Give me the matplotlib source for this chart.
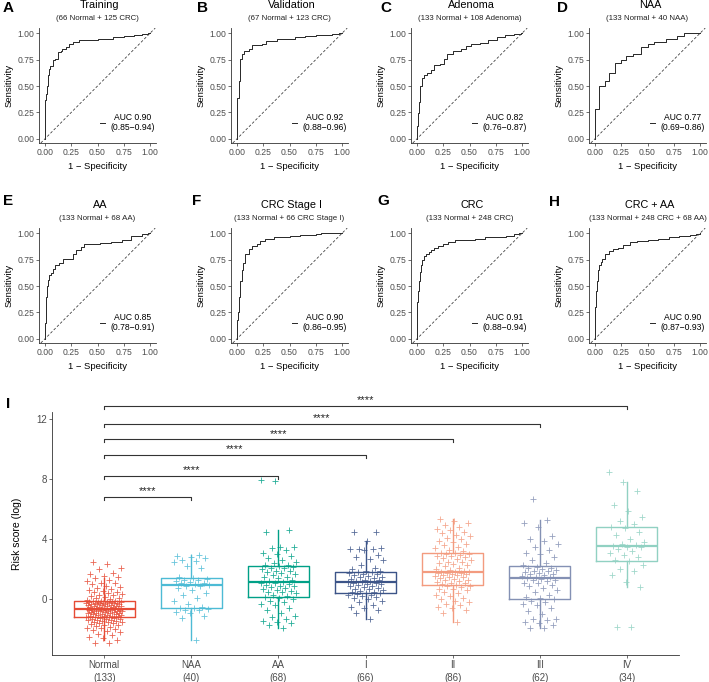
import numpy as np
import matplotlib.pyplot as plt
import matplotlib
from matplotlib.lines import Line2D
matplotlib.rcParams['font.family'] = ['Liberation Sans', 'DejaVu Sans']

# ---- ROC panels: (fpr, tpr) corner points ----
training_fpr = [0, 0, 0.008, 0.016, 0.024, 0.035, 0.045, 0.075, 0.1, 0.12, 0.15, 0.16, 0.2, 0.23, 0.27, 0.32, 0.5, 0.65, 0.75, 0.85, 0.92, 0.98, 1.0]
training_tpr = [0, 0.37, 0.42, 0.5, 0.6, 0.66, 0.69, 0.75, 0.76, 0.82, 0.83, 0.85, 0.87, 0.9, 0.92, 0.94, 0.95, 0.96, 0.97, 0.98, 0.99, 1.0, 1.0]
validation_fpr = [0, 0, 0.015, 0.03, 0.05, 0.07, 0.11, 0.14, 0.24, 0.28, 0.38, 0.55, 0.65, 0.75, 0.9, 0.97, 1.0]
validation_tpr = [0, 0.39, 0.55, 0.76, 0.8, 0.83, 0.85, 0.89, 0.9, 0.93, 0.95, 0.96, 0.97, 0.98, 0.99, 1.0, 1.0]
adenoma_fpr = [0, 0, 0.008, 0.015, 0.03, 0.045, 0.07, 0.1, 0.13, 0.16, 0.22, 0.26, 0.29, 0.34, 0.42, 0.47, 0.51, 0.6, 0.68, 0.76, 0.84, 0.92, 0.99, 1.0]
adenoma_tpr = [0, 0.12, 0.24, 0.35, 0.5, 0.58, 0.6, 0.62, 0.65, 0.7, 0.71, 0.76, 0.8, 0.83, 0.85, 0.88, 0.9, 0.91, 0.94, 0.96, 0.98, 0.99, 1.0, 1.0]
naa_fpr = [0, 0, 0.04, 0.1, 0.13, 0.19, 0.25, 0.3, 0.36, 0.44, 0.5, 0.56, 0.68, 0.78, 0.85, 1.0]
naa_tpr = [0, 0.28, 0.5, 0.55, 0.62, 0.72, 0.75, 0.78, 0.8, 0.87, 0.9, 0.92, 0.95, 0.97, 1.0, 1.0]
aa_fpr = [0, 0, 0.005, 0.012, 0.02, 0.03, 0.04, 0.06, 0.08, 0.1, 0.13, 0.17, 0.27, 0.3, 0.34, 0.37, 0.52, 0.63, 0.73, 0.82, 0.92, 0.98, 1.0]
aa_tpr = [0, 0.15, 0.25, 0.4, 0.5, 0.56, 0.6, 0.62, 0.66, 0.7, 0.72, 0.76, 0.8, 0.84, 0.87, 0.9, 0.91, 0.92, 0.94, 0.97, 0.99, 1.0, 1.0]
stage1_fpr = [0, 0, 0.008, 0.02, 0.03, 0.045, 0.06, 0.08, 0.11, 0.14, 0.19, 0.22, 0.27, 0.35, 0.5, 0.6, 0.75, 0.8, 1.0]
stage1_tpr = [0, 0.18, 0.25, 0.4, 0.55, 0.65, 0.72, 0.8, 0.85, 0.88, 0.9, 0.93, 0.95, 0.96, 0.97, 0.98, 0.99, 1.0, 1.0]
crc_fpr = [0, 0, 0.008, 0.016, 0.025, 0.035, 0.05, 0.07, 0.09, 0.11, 0.13, 0.16, 0.2, 0.25, 0.3, 0.36, 0.45, 0.55, 0.65, 0.75, 0.85, 0.92, 0.97, 1.0]
crc_tpr = [0, 0.35, 0.45, 0.55, 0.63, 0.7, 0.75, 0.78, 0.8, 0.82, 0.84, 0.86, 0.88, 0.9, 0.92, 0.935, 0.94, 0.95, 0.96, 0.965, 0.975, 0.99, 1.0, 1.0]
crcaa_fpr = [0, 0, 0.008, 0.016, 0.025, 0.04, 0.055, 0.07, 0.1, 0.13, 0.17, 0.22, 0.27, 0.33, 0.4, 0.5, 0.6, 0.7, 0.8, 0.9, 0.96, 1.0]
crcaa_tpr = [0, 0.3, 0.45, 0.55, 0.65, 0.7, 0.73, 0.76, 0.8, 0.83, 0.85, 0.86, 0.89, 0.92, 0.93, 0.94, 0.95, 0.96, 0.97, 0.98, 0.99, 1.0]

roc_letters = ['A', 'B', 'C', 'D', 'E', 'F', 'G', 'H']
roc_titles = ['Training', 'Validation', 'Adenoma', 'NAA', 'AA', 'CRC Stage I', 'CRC', 'CRC + AA']
roc_subtitles = ['(66 Normal + 125 CRC)', '(67 Normal + 123 CRC)', '(133 Normal + 108 Adenoma)',
                 '(133 Normal + 40 NAA)', '(133 Normal + 68 AA)', '(133 Normal + 66 CRC Stage I)',
                 '(133 Normal + 248 CRC)', '(133 Normal + 248 CRC + 68 AA)']
roc_auc = ['0.90', '0.92', '0.82', '0.77', '0.85', '0.90', '0.91', '0.90']
roc_ci = ['0.85\u22120.94', '0.88\u22120.96', '0.76\u22120.87', '0.69\u22120.86',
          '0.78\u22120.91', '0.86\u22120.95', '0.88\u22120.94', '0.87\u22120.93']
roc_fprs = [training_fpr, validation_fpr, adenoma_fpr, naa_fpr, aa_fpr, stage1_fpr, crc_fpr, crcaa_fpr]
roc_tprs = [training_tpr, validation_tpr, adenoma_tpr, naa_tpr, aa_tpr, stage1_tpr, crc_tpr, crcaa_tpr]

# ---- Risk score box plot ----
groups = ['Normal', 'NAA', 'AA', 'I', 'II', 'III', 'IV']
group_n = [133, 40, 68, 66, 86, 62, 34]
group_colors = ['#E64B35', '#4DBBD5', '#00A087', '#3C5488', '#F39B7F', '#8491B4', '#91D1C2']

normal_scores = [-2.95, -2.9, -2.75, -2.6, -2.5, -2.4, -2.3, -2.2, -2.1, -2.05, -2.0, -1.95, -1.9, -1.85,
                 -1.8, -1.75, -1.7, -1.65, -1.6, -1.58, -1.55, -1.52, -1.5, -1.47, -1.45, -1.42, -1.4,
                 -1.38, -1.35, -1.32, -1.3, -1.28, -1.26,
                 -1.22, -1.2, -1.18, -1.16, -1.14, -1.12, -1.1, -1.08, -1.06, -1.04, -1.02, -1.0, -0.98,
                 -0.96, -0.94, -0.92, -0.9, -0.88, -0.86, -0.84, -0.82, -0.8, -0.79, -0.78, -0.77, -0.76,
                 -0.75, -0.74, -0.73, -0.72, -0.71, -0.7, -0.69, -0.67,
                 -0.65, -0.63, -0.61, -0.59, -0.57, -0.55, -0.53, -0.51, -0.49, -0.47, -0.45, -0.43, -0.41,
                 -0.39, -0.37, -0.35, -0.33, -0.31, -0.3, -0.29, -0.28, -0.27, -0.26, -0.25, -0.24, -0.23,
                 -0.22, -0.21, -0.2, -0.19, -0.17, -0.16, -0.15,
                 -0.1, -0.05, 0.0, 0.05, 0.1, 0.15, 0.2, 0.25, 0.3, 0.35, 0.4, 0.45, 0.5, 0.55, 0.6, 0.7,
                 0.75, 0.8, 0.9, 1.0, 1.05, 1.1, 1.2, 1.3, 1.4, 1.5, 1.55, 1.65, 1.75, 2.0, 2.1, 2.35, 2.5]
naa_scores = [-2.75, -1.25, -1.1, -0.95, -0.85, -0.75, -0.7, -0.65, -0.62, -0.6,
              -0.55, -0.3, -0.1, 0.1, 0.25, 0.4, 0.6, 0.75, 0.85, 0.9,
              0.95, 1.0, 1.05, 1.1, 1.15, 1.2, 1.25, 1.3, 1.35, 1.4,
              1.45, 2.1, 2.2, 2.45, 2.55, 2.6, 2.75, 2.8, 2.85, 2.95]
aa_scores = [-1.9, -1.75, -1.6, -1.5, -1.45, -1.3, -1.2, -1.1, -0.9, -0.75, -0.6, -0.4, -0.3, -0.2, -0.1, 0.0, 0.08,
             0.15, 0.2, 0.3, 0.4, 0.45, 0.5, 0.55, 0.6, 0.7, 0.75, 0.8, 0.85, 0.9, 0.95, 1.0, 1.05, 1.1,
             1.15, 1.2, 1.3, 1.4, 1.45, 1.5, 1.6, 1.7, 1.75, 1.8, 1.85, 1.9, 2.0, 2.05, 2.1, 2.15, 2.2,
             2.25, 2.3, 2.4, 2.5, 2.6, 2.75, 2.85, 3.0, 3.1, 3.3, 3.4, 3.45, 3.5, 4.45, 4.6, 7.85, 7.95]
stage_i_scores = [-1.3, -0.9, -0.75, -0.6, -0.5, -0.4, -0.2, -0.1, 0.0, 0.1, 0.15, 0.2, 0.25, 0.3, 0.35, 0.38, 0.41,
                  0.45, 0.5, 0.55, 0.6, 0.65, 0.7, 0.75, 0.8, 0.85, 0.9, 0.95, 1.0, 1.03, 1.06, 1.09, 1.12,
                  1.14, 1.18, 1.22, 1.26, 1.3, 1.35, 1.4, 1.45, 1.5, 1.55, 1.6, 1.65, 1.7, 1.75, 1.78, 1.8,
                  1.85, 1.9, 2.0, 2.1, 2.3, 2.6, 2.7, 2.8, 2.95, 3.3, 3.32, 3.34, 3.36, 3.38, 3.9, 4.45, 4.5]
stage_ii_scores = [-1.5, -0.9, -0.7, -0.6, -0.5, -0.4, -0.3, -0.2, -0.1, 0.0, 0.1, 0.2, 0.3, 0.4, 0.5, 0.6, 0.65,
                   0.7, 0.8, 0.85, 0.9, 0.96,
                   1.0, 1.05, 1.1, 1.15, 1.2, 1.25, 1.3, 1.35, 1.4, 1.45, 1.5, 1.55, 1.6, 1.63, 1.66, 1.69,
                   1.72, 1.75, 1.77, 1.79, 1.81,
                   1.83, 1.9, 1.95, 2.0, 2.1, 2.2, 2.3, 2.35, 2.4, 2.45, 2.5, 2.6, 2.7, 2.75, 2.8, 2.85, 2.9,
                   2.95, 3.0, 3.03, 3.06,
                   3.1, 3.2, 3.3, 3.4, 3.5, 3.6, 3.7, 3.8, 3.9, 4.0, 4.1, 4.2, 4.3, 4.4, 4.5, 4.6, 4.7, 4.8,
                   4.95, 5.1, 5.2, 5.35]
stage_iii_scores = [-1.95, -1.9, -1.7, -1.6, -1.5, -1.4, -1.35, -1.3, -1.0, -0.8, -0.6, -0.4, -0.3, -0.2, -0.1, -0.02,
                    0.05, 0.15, 0.3, 0.45, 0.6, 0.75, 0.85, 0.95, 1.05, 1.1, 1.2, 1.25, 1.3, 1.35, 1.4,
                    1.44, 1.5, 1.55, 1.6, 1.65, 1.7, 1.75, 1.8, 1.85, 1.9, 1.95, 2.0, 2.05, 2.1, 2.15,
                    2.25, 2.4, 2.6, 2.8, 3.0, 3.1, 3.3, 3.5, 3.7, 3.9, 4.0, 4.2, 4.8, 5.1, 5.3, 6.7]
stage_iv_scores = [-1.85, -1.83, 0.82, 1.15, 1.6, 1.9, 2.0, 2.3, 2.55,
                   2.6, 2.8, 2.95, 3.1, 3.2, 3.35, 3.45, 3.5,
                   3.56, 3.6, 3.7, 3.8, 4.0, 4.3, 4.5, 4.75,
                   4.8, 5.0, 5.2, 5.5, 5.9, 6.3, 7.2, 7.8, 8.45]
group_scores = [normal_scores, naa_scores, aa_scores, stage_i_scores,
                stage_ii_scores, stage_iii_scores, stage_iv_scores]

# Normal vs each group: bracket height and label
bracket_to = [2, 3, 4, 5, 6, 7]
bracket_y = [6.8, 8.2, 9.6, 10.65, 11.71, 12.87]
bracket_label = ['****'] * 6

W, H = 709, 682
fig = plt.figure(figsize=(W / 100, H / 100), dpi=100)


def px_axes(left, top, w, h):
    return fig.add_axes([left / W, 1 - (top + h) / H, w / W, h / H])


def style_axes(ax, fs):
    for s in ['top', 'right']:
        ax.spines[s].set_visible(False)
    for s in ['left', 'bottom']:
        ax.spines[s].set_color('#333333')
        ax.spines[s].set_linewidth(0.6)
    ax.tick_params(length=2, width=0.5, color='#333333', labelsize=fs,
                   labelcolor='#4D4D4D', pad=1.5)


col_left = [39, 231, 411, 589]
row_top = [28, 228]
ax_w, ax_h = 117, 115
ticks = [0, 0.25, 0.5, 0.75, 1.0]

for i in range(8):
    r, c = divmod(i, 4)
    ax = px_axes(col_left[c], row_top[r], ax_w, ax_h)
    style_axes(ax, 6.2)
    ax.plot(roc_fprs[i], roc_tprs[i], drawstyle='steps-post', color='#262626', lw=0.7)
    ax.axline((0, 0), (1, 1), color='#333333', lw=0.55, ls=(0, (3.5, 2.5)))
    ax.set_xlim(-0.057, 1.057)
    ax.set_ylim(-0.04, 1.05)
    ax.set_xticks(ticks)
    ax.set_yticks(ticks)
    ax.set_xticklabels(['%.2f' % t for t in ticks])
    ax.set_yticklabels(['%.2f' % t for t in ticks])
    ax.set_xlabel('1 \u2212 Specificity', fontsize=6.8)
    ax.set_ylabel('Sensitivity', fontsize=6.8)
    ax.xaxis.set_label_coords(0.5, -0.165)
    ax.yaxis.set_label_coords(-0.22, 0.5)
    ax.text(0.52, 1.2, roc_titles[i], transform=ax.transAxes, ha='center', va='center', fontsize=7.8)
    ax.text(0.5, 1.085, roc_subtitles[i], transform=ax.transAxes, ha='center', va='center',
            fontsize=5.7, color='#222222')
    h = Line2D([], [], color='#262626', lw=0.7)
    leg = ax.legend([h], ['AUC %s\n(%s)' % (roc_auc[i], roc_ci[i])], loc='lower right',
                    bbox_to_anchor=(1.04, 0.04), frameon=False, fontsize=6.2,
                    handlelength=0.6, handletextpad=0.6, borderpad=0.2)
    for t in leg.get_texts():
        t.set_multialignment('center')

letter_pos = [(8, 8), (202, 8), (386, 8), (563, 8), (8, 201), (197, 201), (383, 201), (554, 202)]
for L, (x, y) in zip(roc_letters, letter_pos):
    fig.text(x / W, 1 - y / H, L, fontsize=11, fontweight='bold', ha='center', va='center')
fig.text(8 / W, 1 - 404 / H, 'I', fontsize=11, fontweight='bold', ha='center', va='center')

# ---- bottom panel ----
ax = px_axes(52, 411.7, 627, 243.3)
style_axes(ax, 7)
pos = np.arange(1, len(groups) + 1)
for k, (vals, col) in enumerate(zip(group_scores, group_colors)):
    vals = np.asarray(vals)
    jit = (((np.arange(len(vals)) + 1) * 0.6180339887) % 1 - 0.5) * 0.42
    ax.scatter(pos[k] + jit, vals, marker='+', s=22, color=col, linewidths=0.6, alpha=0.85, zorder=3)
    ax.boxplot(vals, positions=[pos[k]], widths=0.7, whis=1.5, showfliers=False, showcaps=False,
               patch_artist=False,
               boxprops=dict(color=col, lw=1.0),
               whiskerprops=dict(color=col, lw=1.0),
               medianprops=dict(color=col, lw=1.6),
               zorder=2)

for g, y, lab in zip(bracket_to, bracket_y, bracket_label):
    ax.plot([1, 1, g, g], [y - 0.2, y, y, y - 0.2], color='#333333', lw=0.8, clip_on=False)
    ax.text((1 + g) / 2, y + 0.05, lab, ha='center', va='bottom', fontsize=8, color='#222222',
            clip_on=False)

ax.set_xlim(0.4, 7.6)
ax.set_ylim(-3.73, 12.5)
ax.set_yticks([0, 4, 8, 12])
ax.set_xticks(pos)
ax.set_xticklabels(['%s\n(%d)' % (g, n) for g, n in zip(groups, group_n)], linespacing=1.4)
ax.set_ylabel('Risk score (log)', fontsize=7.5)
ax.yaxis.set_label_coords(-0.048, 0.5)

fig.savefig('out.png', dpi=100)
